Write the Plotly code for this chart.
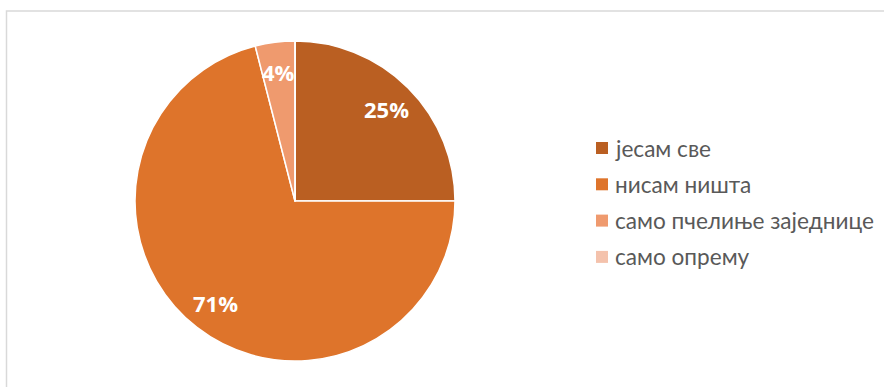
import math
import plotly.graph_objects as go

W, H = 884, 387

labels = ["јесам све", "нисам ништа", "само пчелиње заједнице", "само опрему"]
values = [25, 71, 4, 0]
colors = ["#BA5F22", "#DE742B", "#EF9A6E", "#F4C2AC"]

fig = go.Figure()

# pie centred at (295, 201) px with a 160 px radius
cx, cy, r = 295, 201, 160
fig.add_trace(go.Pie(
    labels=labels,
    values=values,
    sort=False,
    direction="clockwise",
    rotation=0,
    marker=dict(colors=colors, line=dict(color="white", width=1.5)),
    textinfo="none",
    domain=dict(x=[(cx - r) / W, (cx + r) / W], y=[1 - (cy + r) / H, 1 - (cy - r) / H]),
    showlegend=False,
    hoverinfo="label+percent",
))

shapes = [
    # chart-area frame
    dict(type="rect", xref="paper", yref="paper",
         x0=6.5 / W, x1=1.05, y0=-0.05, y1=1 - 11 / H,
         line=dict(color="#D9D9D9", width=1.5), fillcolor="rgba(0,0,0,0)"),
]
annotations = []

# percentage labels placed at 81% of the radius, on each slice's mid-angle
total = sum(values)
start = 0.0
for v in values:
    span = 360.0 * v / total
    if v > 0:
        mid = math.radians(start + span / 2)
        px = cx + 0.81 * r * math.sin(mid)
        py = cy - 0.81 * r * math.cos(mid)
        annotations.append(dict(x=px / W, y=1 - py / H, xref="paper", yref="paper",
                                text=f"{v}%", showarrow=False,
                                xanchor="center", yanchor="middle",
                                font=dict(family="Open Sans, Arial", size=22,
                                          color="white", weight="bold")))
    start += span

# legend entries
lx, ly0, dy, sq = 596, 148, 36.3, 12
for i, (lab, col) in enumerate(zip(labels, colors)):
    y = ly0 + i * dy
    shapes.append(dict(type="rect", xref="paper", yref="paper",
                       x0=lx / W, x1=(lx + sq) / W,
                       y0=1 - (y + sq / 2) / H, y1=1 - (y - sq / 2) / H,
                       fillcolor=col, line=dict(width=0)))
    annotations.append(dict(x=(lx + 17) / W, y=1 - y / H, xref="paper", yref="paper",
                            text=lab, showarrow=False, xanchor="left", yanchor="middle",
                            font=dict(family="Lato, Open Sans, Arial", size=22.6, color="#595959")))

fig.update_layout(
    width=W, height=H,
    margin=dict(l=0, r=0, t=0, b=0),
    paper_bgcolor="white",
    plot_bgcolor="white",
    shapes=shapes,
    annotations=annotations,
)

fig.write_html("out.html")
